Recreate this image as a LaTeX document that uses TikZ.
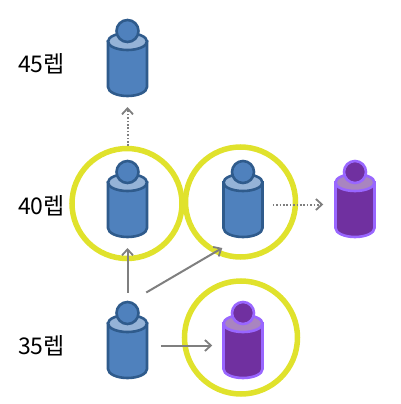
\documentclass[tikz,border=0pt]{standalone}
\usepackage{fontspec}
\newfontfamily\krfont{Noto Sans CJK KR}
\usetikzlibrary{arrows.meta}
\definecolor{bluefill}{HTML}{4F81BD}
\definecolor{blueline}{HTML}{2F5B8C}
\definecolor{bluetop}{HTML}{95B3D7}
\definecolor{purplefill}{HTML}{7030A0}
\definecolor{purpleline}{HTML}{9966FF}
\definecolor{purpletop}{HTML}{A985C0}
\definecolor{ringcol}{HTML}{E0E22C}
\definecolor{arrowcol}{HTML}{7F7F7F}
\tikzset{
  x=1pt,y=-1pt,
  personbox/.style={inner sep=0pt,outer sep=0pt,minimum width=39.5pt,minimum height=66pt},
  ring/.style={draw=ringcol,line width=5.5pt},
  conn/.style={draw=arrowcol,line width=2pt,-{Straight Barb[length=6pt,width=11pt,line width=1.8pt]}},
  dotconn/.style={conn,dash pattern=on 1.7pt off 1.7pt},
  lbl/.style={font=\krfont\fontsize{23}{23}\selectfont,inner sep=0pt,text=black},
  bluep/.style={draw=blueline,line width=2.6pt},
  purplep/.style={draw=purpleline,line width=2.6pt},
}
% #1 name, #2 centre x, #3 head centre y, #4 stroke style, #5 fill, #6 top fill
\newcommand{\personfig}[6]{%
  \node[personbox] (#1) at (#2,#3+32.5) {};
  \draw[#4,fill=#5] (#2-19.5,#3+10.5) -- (#2-19.5,#3+56)
    arc[start angle=180,end angle=360,x radius=19.5pt,y radius=9pt]
    -- (#2+19.5,#3+10.5) -- cycle;
  \draw[#4,fill=#6] (#2,#3+10.5) ellipse[x radius=19.5pt,y radius=8.5pt];
  \draw[#4,fill=#5] (#2,#3) circle[radius=11pt];
}
\begin{document}
\begin{tikzpicture}
\useasboundingbox (0,0) rectangle (400,404);
\node[lbl] (l45) at (41.5,64) {45렙};
\node[lbl] (l40) at (41.5,205.5) {40렙};
\node[lbl] (l35) at (41.5,346) {35렙};
\node[ring,circle,minimum size=110pt,inner sep=0pt,outer sep=0pt] (r1) at (127,203.5) {};
\node[ring,circle,minimum size=110pt,inner sep=0pt,outer sep=0pt] (r2) at (240.5,202) {};
\node[ring,circle,minimum size=113pt,inner sep=0pt,outer sep=0pt] (r3) at (241,337.5) {};
\personfig{p45}{127.5}{31}{bluep}{bluefill}{bluetop}
\personfig{p40a}{127.5}{172}{bluep}{bluefill}{bluetop}
\personfig{p40b}{243}{172}{bluep}{bluefill}{bluetop}
\personfig{p40c}{355}{172}{purplep}{purplefill}{purpletop}
\personfig{p35a}{127.5}{313}{bluep}{bluefill}{bluetop}
\personfig{p35b}{243}{313}{purplep}{purplefill}{purpletop}
\draw[dotconn,shorten <=25.5pt,shorten >=10.5pt] (p40a.north) -- (p45.south);
\draw[dotconn,shorten <=10pt,shorten >=12pt] (p40b.east) -- (p40c.west);
\draw[conn,shorten <=20pt,shorten >=10.5pt] (p35a.north) -- (p40a.south);
\draw[conn] ([shift={(-1,-20)}]p35a.north east) -- ([shift={(-1,10.5)}]p40b.south west);
\draw[conn,shorten <=13.5pt,shorten >=11pt] (p35a.east) -- (p35b.west);
\end{tikzpicture}
\end{document}
